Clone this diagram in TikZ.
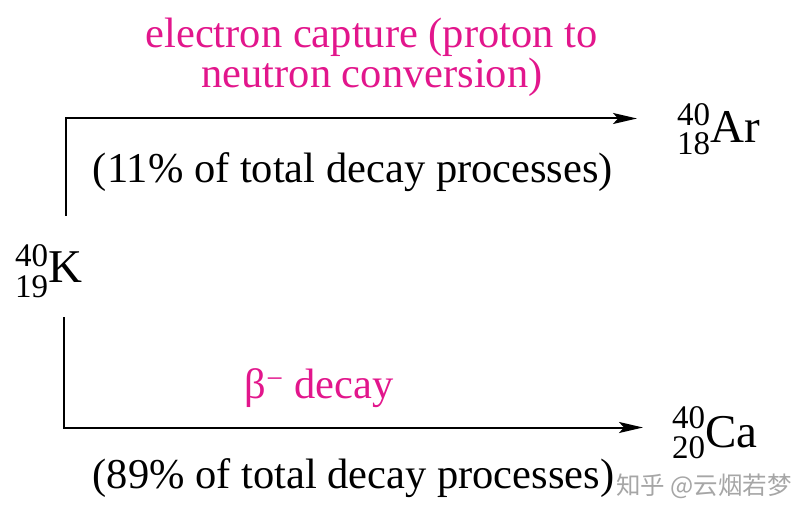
\documentclass[tikz,border=0pt]{standalone}
\usepackage{fontspec}
\setmainfont{Liberation Serif}
\newfontfamily\cjk{Noto Sans CJK SC}
\usetikzlibrary{arrows.meta}
\definecolor{mag}{RGB}{226,22,140}
\newcommand{\numsz}{\fontsize{33}{33}\selectfont}
\newcommand{\symsz}{\fontsize{47}{50}\selectfont}
% #1 upper, #2 lower, #3 symbol, #4 raise of upper, #5 drop of lower
\newcommand{\iso}[5]{\rlap{\raisebox{#4}{\numsz #1}}\raisebox{-#5}{\numsz #2}{\symsz #3}}
\begin{document}
\begin{tikzpicture}[x=1pt,y=-1pt,
  big/.style={font=\fontsize{42.5}{48}\selectfont, inner sep=0pt, anchor=base},
  magtxt/.style={big, text=mag},
  isot/.style={inner sep=0pt, anchor=base west},
  conn/.style={line width=2pt, -{Stealth[length=24pt,width=11pt,inset=5pt]}}]
\useasboundingbox (0,0) rectangle (810,518);
\node[magtxt] (t1) at (371.5,48) {electron capture (proton to};
\node[magtxt] (t2) at (372,88) {neutron conversion)};
\node[big] (p11) at (353,183) {(11\% of total decay processes)};
\node[magtxt] (beta) at (319,398) {β\textsuperscript{−} decay};
\node[big] (p89) at (353.5,488) {(89\% of total decay processes)};
\node[isot] (k) at (15,283) {\iso{40}{19}{K}{16pt}{15pt}};
\node[isot] (ar) at (677,143) {\iso{40}{18}{Ar}{17pt}{12pt}};
\node[isot] (ca) at (672,447) {\iso{40}{20}{Ca}{19pt}{11pt}};
\node[inner sep=0pt, anchor=base west, text=black!35, font=\cjk\fontsize{24.5}{24}\selectfont] (wm) at (616,494) {知乎 @云烟若梦};
\coordinate (ktop) at (66,216);
\coordinate (kbot) at (64,317);
\coordinate (artip) at (637,118.5);
\coordinate (catip) at (643,427.5);
\draw[conn] (ktop) |- (artip);
\draw[conn] (kbot) |- (catip);
\end{tikzpicture}
\end{document}
